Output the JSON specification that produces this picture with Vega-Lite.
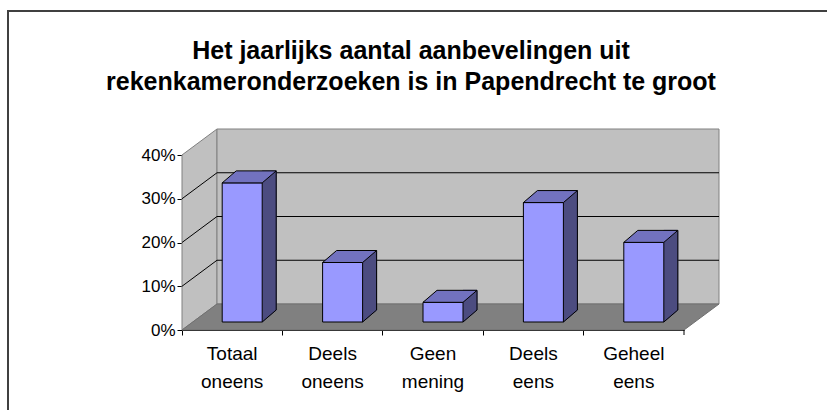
{
  "$schema": "https://vega.github.io/schema/vega-lite/v6.json",
  "width": 822,
  "height": 402,
  "autosize": {"type": "none"},
  "padding": {"left": 8, "top": 11, "right": -3, "bottom": -3},
  "background": "white",
  "title": {
    "text": ["Het jaarlijks aantal aanbevelingen uit", "rekenkameronderzoeken is in Papendrecht te groot"],
    "anchor": "middle",
    "frame": "group",
    "font": "Liberation Sans",
    "fontSize": 25,
    "fontWeight": "bold",
    "color": "black",
    "lineHeight": 31,
    "offset": -84,
    "dx": -8
  },
  "data": {
    "values": [
      {"antwoord": "Totaal oneens", "aandeel": 0.318},
      {"antwoord": "Deels oneens", "aandeel": 0.136},
      {"antwoord": "Geen mening", "aandeel": 0.045},
      {"antwoord": "Deels eens", "aandeel": 0.273},
      {"antwoord": "Geheel eens", "aandeel": 0.182}
    ]
  },
  "config": {
    "view": {"stroke": "#404040", "strokeWidth": 2, "fill": "white"},
    "axisX": {
      "offset": -83,
      "bandPosition": 0,
      "domainColor": "black",
      "tickColor": "black",
      "tickSize": 5,
      "labelFont": "Liberation Sans",
      "labelFontSize": 19,
      "labelColor": "black",
      "labelAngle": 0,
      "labelPadding": 9,
      "labelLineHeight": 28,
      "labelExpr": "split(datum.label, ' ')",
      "grid": false
    },
    "axisY": {
      "offset": -174,
      "domainColor": "black",
      "tickColor": "black",
      "tickSize": 5,
      "labelFont": "Liberation Sans",
      "labelFontSize": 17,
      "labelColor": "black",
      "labelPadding": 2,
      "grid": false
    }
  },
  "layer": [
    {
      "data": {"values": [{"k": 1}]},
      "mark": {"type": "point", "shape": "M0,0 L0,-175 L35,-201 L35,-26 Z", "size": 4, "filled": true, "fill": "#C0C0C0", "stroke": "#808080", "strokeWidth": 1, "opacity": 1},
      "encoding": {
        "x": {"datum": "Totaal oneens", "bandPosition": 0, "type": "nominal", "title": null,
              "scale": {"type": "band", "domain": ["Totaal oneens", "Deels oneens", "Geen mening", "Deels eens", "Geheel eens"], "range": [174, 676], "paddingInner": 0, "paddingOuter": 0}},
        "y": {"datum": 0, "type": "quantitative", "title": null,
              "scale": {"type": "linear", "domain": [0, 0.4], "range": [319, 144], "nice": false, "zero": true},
              "axis": {"values": [0, 0.1, 0.2, 0.3, 0.4], "format": ".0%"}}
      }
    },
    {
      "data": {"values": [{"k": 1}]},
      "mark": {"type": "point", "shape": "M35,-26 L537,-26 L537,-201 L35,-201 Z", "size": 4, "filled": true, "fill": "#C0C0C0", "stroke": "#808080", "strokeWidth": 1, "opacity": 1},
      "encoding": {
        "x": {"datum": "Totaal oneens", "bandPosition": 0, "type": "nominal", "title": null},
        "y": {"datum": 0, "type": "quantitative", "title": null}
      }
    },
    {
      "data": {"values": [{"k": 1}]},
      "mark": {"type": "point", "shape": "M0,0 L502,0 L537,-26 L35,-26 Z", "size": 4, "filled": true, "fill": "#808080", "stroke": "#707070", "strokeWidth": 1, "opacity": 1},
      "encoding": {
        "x": {"datum": "Totaal oneens", "bandPosition": 0, "type": "nominal", "title": null},
        "y": {"datum": 0, "type": "quantitative", "title": null}
      }
    },
    {
      "data": {"values": [{"k": 1}]},
      "mark": {"type": "point", "shape": "M35,-69.75 L537,-69.75 M35,-113.5 L537,-113.5 M35,-157.25 L537,-157.25 M0,-43.75 L35,-69.75 M0,-87.5 L35,-113.5 M0,-131.25 L35,-157.25", "size": 4, "filled": false, "stroke": "black", "strokeWidth": 1, "opacity": 1},
      "encoding": {
        "x": {"datum": "Totaal oneens", "bandPosition": 0, "type": "nominal", "title": null},
        "y": {"datum": 0, "type": "quantitative", "title": null}
      }
    },
    {
      "data": {"values": [{"k": 1}]},
      "mark": {"type": "rule", "y2Offset": 5, "color": "black", "strokeWidth": 1},
      "encoding": {
        "x": {"datum": "Geheel eens", "bandPosition": 1, "type": "nominal", "title": null},
        "y": {"datum": 0, "type": "quantitative", "title": null},
        "y2": {"datum": 0}
      }
    },
    {
      "mark": {"type": "bar", "size": 14, "xOffset": 37, "yOffset": -20, "y2Offset": -20, "fill": "#4C4C80", "stroke": "#4C4C80", "strokeWidth": 1},
      "encoding": {
        "x": {"field": "antwoord", "type": "nominal", "title": null},
        "y": {"field": "aandeel", "type": "quantitative", "title": null},
        "y2": {"datum": 0}
      }
    },
    {
      "mark": {"type": "point", "shape": "M30,-8 L30,-20 L44,-20 Z", "size": 4, "filled": true, "fill": "#4C4C80", "stroke": "#4C4C80", "strokeWidth": 1, "opacity": 1},
      "encoding": {
        "x": {"field": "antwoord", "type": "nominal", "title": null},
        "y": {"datum": 0, "type": "quantitative", "title": null}
      }
    },
    {
      "mark": {"type": "bar", "size": 40, "xOffset": 10, "yOffset": -8, "y2Offset": -8, "fill": "#9999FF", "stroke": "black", "strokeWidth": 1},
      "encoding": {
        "x": {"field": "antwoord", "type": "nominal", "title": null},
        "y": {"field": "aandeel", "type": "quantitative", "title": null},
        "y2": {"datum": 0}
      }
    },
    {
      "mark": {"type": "point", "shape": "M-10,-8 L30,-8 L44,-20 L4,-20 Z", "size": 4, "filled": true, "fill": "#7272BF", "stroke": "black", "strokeWidth": 1, "opacity": 1},
      "encoding": {
        "x": {"field": "antwoord", "type": "nominal", "title": null},
        "y": {"field": "aandeel", "type": "quantitative", "title": null}
      }
    },
    {
      "mark": {"type": "rule", "xOffset": 44, "yOffset": -20, "y2Offset": -20, "color": "black", "strokeWidth": 1},
      "encoding": {
        "x": {"field": "antwoord", "type": "nominal", "title": null},
        "y": {"field": "aandeel", "type": "quantitative", "title": null},
        "y2": {"datum": 0}
      }
    },
    {
      "mark": {"type": "point", "shape": "M30,-8 L44,-20", "size": 4, "filled": false, "stroke": "black", "strokeWidth": 1, "opacity": 1},
      "encoding": {
        "x": {"field": "antwoord", "type": "nominal", "title": null},
        "y": {"datum": 0, "type": "quantitative", "title": null}
      }
    }
  ]
}
